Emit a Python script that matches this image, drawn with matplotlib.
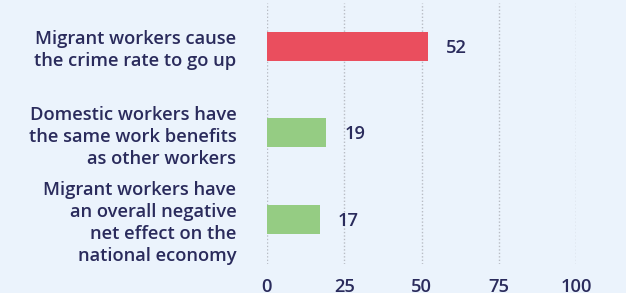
import matplotlib
matplotlib.use("Agg")
import matplotlib.pyplot as plt

categories = [
    "Migrant workers cause\nthe crime rate to go up",
    "Domestic workers have\nthe same work benefits\nas other workers",
    "Migrant workers have\nan overall negative\nnet effect on the\nnational economy",
]
values = [52, 19, 17]
colors = ["#EA4E5E", "#95CC83"]
bar_colors = [colors[0], colors[1], colors[1]]
xticks = [0, 25, 50, 75, 100]

bg = "#EBF3FC"
txt = "#2A2B5C"
plt.rcParams['font.family'] = ['Open Sans', 'DejaVu Sans']

fig = plt.figure(figsize=(6.26, 2.93), dpi=100, facecolor=bg)
ax = fig.add_axes([267/626, 1-264/293, (576-267)/626, (264-3)/293])
ax.set_facecolor(bg)

ypos = list(range(len(categories)))
ax.barh(ypos, values, height=0.335, color=bar_colors, zorder=3)
for y, v in zip(ypos, values):
    ax.text(v + 6, y + 0.02, str(v), va="center", ha="left", fontsize=13.2, color=txt, fontweight="semibold")

ax.set_xlim(0, 100)
ax.set_ylim(2.52, -0.5)
ax.set_xticks(xticks)
ax.set_xticklabels([str(t) for t in xticks], fontsize=13.2, color=txt, fontweight="semibold")
ax.set_yticks(ypos)
ax.set_yticklabels(categories, fontsize=13.2, color=txt, fontweight="semibold", linespacing=1.3)
ax.tick_params(axis="x", length=0, pad=10)
ax.tick_params(axis="y", length=0, pad=22)
ax.grid(axis="x", color="#B8BCC4", linestyle=(0, (1, 1.5)), linewidth=1, zorder=0)
for s in ax.spines.values():
    s.set_visible(False)

fig.savefig("out.png", dpi=100, facecolor=bg)
